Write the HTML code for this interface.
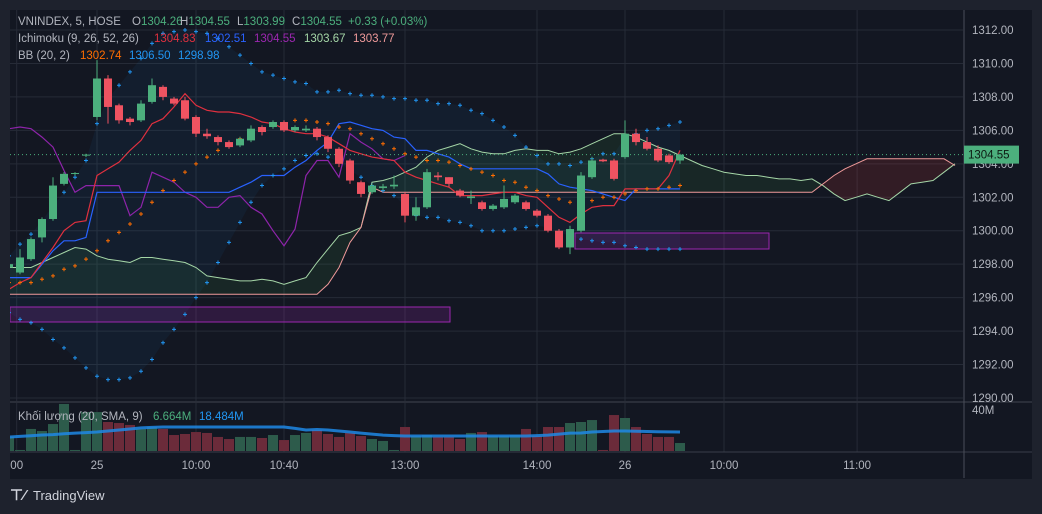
<!DOCTYPE html>
<html><head><meta charset="utf-8"><style>
html,body{margin:0;padding:0;background:#1e222d;}
svg{display:block;font-family:"Liberation Sans",sans-serif;}
</style></head><body>
<svg id="c" width="1042" height="514" viewBox="0 0 1042 514">
<rect x="0" y="0" width="1042" height="514" fill="#1e222d"/>
<rect x="10" y="10" width="1022" height="469" fill="#131722"/>
<defs><clipPath id="mainClip"><rect x="10" y="10" width="953" height="391"/></clipPath>
<clipPath id="volClip"><rect x="10" y="403" width="953" height="49"/></clipPath></defs>
<g id="grid"></g>
<g id="main" clip-path="url(#mainClip)"></g>
<g id="vol" clip-path="url(#volClip)"></g>
<g id="axes"></g>
<g font-size="11.5">
<text x="18" y="25" fill="#b2b5be">VNINDEX, 5, HOSE</text>
<text x="132" y="25" fill="#b2b5be">O<tspan fill="#4caf7d">1304.26</tspan></text>
<text x="180" y="25" fill="#b2b5be">H<tspan fill="#4caf7d">1304.55</tspan></text>
<text x="237" y="25" fill="#b2b5be">L<tspan fill="#4caf7d">1303.99</tspan></text>
<text x="292" y="25" fill="#b2b5be">C<tspan fill="#4caf7d">1304.55</tspan></text>
<text x="348" y="25" fill="#4caf7d">+0.33 (+0.03%)</text>
</g>
<g font-size="11.5">
<text x="18" y="42" fill="#b2b5be">Ichimoku (9, 26, 52, 26)</text>
<text x="154" y="42" fill="#e0303f">1304.83</text>
<text x="205" y="42" fill="#2962ff">1302.51</text>
<text x="254" y="42" fill="#9c27b0">1304.55</text>
<text x="304" y="42" fill="#a5d6a7">1303.67</text>
<text x="353" y="42" fill="#ef9a9a">1303.77</text>
</g>
<g font-size="11.5">
<text x="18" y="59" fill="#b2b5be">BB (20, 2)</text>
<text x="80" y="59" fill="#ff6d00">1302.74</text>
<text x="129" y="59" fill="#2196f3">1306.50</text>
<text x="178" y="59" fill="#2196f3">1298.98</text>
</g>
<g font-size="11.5">
<text x="18" y="420" fill="#b2b5be">Khối lượng (20, SMA, 9)</text>
<text x="153" y="420" fill="#4caf7d">6.664M</text>
<text x="199" y="420" fill="#2196f3">18.484M</text>
</g>
<g>
<text x="10" y="500" fill="#d1d4dc" font-size="15" font-weight="bold">⊤⁄</text>
<text x="33" y="500" fill="#d1d4dc" font-size="13">TradingView</text>
</g>
</svg>
<script>
// ===== data =====
const opens = [1297.8,1297.5,1298.3,1299.6,1300.7,1302.8,1303.4,1304.5,1306.8,1309.1,1307.5,1306.7,1306.6,1307.7,1308.6,1307.9,1307.8,1306.8,1305.8,1305.6,1305.3,1305.1,1305.4,1306.2,1306.2,1306.5,1306.0,1306.0,1306.1,1305.6,1304.9,1304.2,1302.9,1302.3,1302.55,1302.65,1302.2,1300.9,1301.4,1303.3,1303.2,1302.4,1301.95,1301.7,1301.3,1301.4,1301.7,1301.7,1301.2,1300.9,1300.0,1299.0,1300.0,1303.2,1304.25,1304.2,1304.4,1305.8,1305.3,1304.9,1304.5,1304.2];
const closes = [1298.0,1298.4,1299.5,1300.7,1302.7,1303.4,1303.45,1304.55,1309.1,1307.4,1306.6,1306.5,1307.6,1308.7,1308.0,1307.6,1306.7,1305.8,1305.65,1305.3,1305.0,1305.5,1306.1,1305.9,1306.5,1306.0,1306.2,1306.1,1305.6,1304.9,1304.0,1303.0,1302.2,1302.7,1302.65,1302.75,1300.9,1301.4,1303.5,1303.2,1302.8,1302.1,1302.05,1301.3,1301.5,1301.9,1302.1,1301.3,1300.9,1300.0,1299.0,1300.1,1303.3,1304.2,1304.15,1303.1,1305.8,1305.3,1304.9,1304.2,1304.1,1304.55];
const highs = [1298.2,1298.9,1299.6,1300.8,1303.2,1303.5,1303.5,1304.6,1310.2,1309.3,1307.6,1306.8,1307.8,1309.1,1308.7,1308.0,1308.0,1306.9,1306.1,1305.7,1305.4,1305.6,1306.3,1306.3,1306.6,1306.6,1306.3,1306.3,1306.2,1305.7,1305.0,1304.3,1303.0,1302.8,1302.8,1303.3,1302.3,1302.0,1303.7,1303.5,1303.2,1302.5,1302.4,1301.8,1301.6,1302.7,1302.2,1301.8,1301.3,1301.0,1300.1,1300.3,1303.5,1304.4,1304.3,1304.3,1306.6,1306.1,1305.6,1305.1,1304.6,1304.6];
const lows = [1297.6,1297.4,1298.2,1299.3,1300.6,1302.7,1303.3,1304.4,1306.6,1306.4,1306.4,1306.3,1306.5,1307.6,1307.8,1307.5,1306.6,1305.6,1305.5,1305.1,1304.9,1305.0,1305.3,1305.7,1306.1,1305.9,1305.9,1305.9,1305.4,1304.7,1303.8,1302.8,1302.0,1302.2,1302.4,1302.5,1300.5,1300.6,1301.3,1303.0,1302.6,1302.0,1301.6,1301.2,1301.2,1301.3,1301.6,1301.2,1300.8,1299.9,1298.9,1298.6,1299.9,1303.1,1304.1,1303.0,1304.3,1305.1,1304.8,1304.1,1304.0,1304.0];
const volumes = [13.7,1,21.5,19.5,26.3,45.9,1,38,38,28.3,27.3,25.4,21.5,23.4,21.5,15.6,16.6,18.5,17.6,13.7,11.7,13.7,13.7,12.7,15.6,10.7,15.6,17.6,20.5,16.6,13.7,17.6,14.6,11.7,9.8,1,23.4,14.6,15.6,13.7,13.7,11.7,17.6,18.5,14.6,14.6,15.6,21.5,14.6,23.4,23.4,27.3,28.3,30.2,1,35.1,32.2,23.4,16.6,13.7,13.7,7.8];
const volumeSma = [13.7,14.2,14.8,15.6,16,16.8,17.5,18,18.5,19.5,20.5,21.5,22.5,23,23.4,23.4,23.4,23.4,23.4,23.4,23.4,23.4,23.4,23.4,23.4,23.4,22,20.5,21,20.5,19.5,18.5,17.5,16.5,15.5,15,14.6,14.6,14.6,14.6,14.6,14.6,14.6,14.6,14.6,14.6,14.6,14.6,15,15.5,16.5,17.5,17.6,18.5,19,19.5,19.5,19.3,19,18.8,18.6,18.5];
const tenkan = [1296.5,1296.9,1297.2,1298.1,1299.0,1300.0,1300.5,1300.6,1303.3,1303.7,1304.1,1304.8,1305.4,1306.4,1306.7,1307.4,1308.2,1307.5,1307.2,1307.1,1307.1,1307.0,1306.8,1306.5,1306.4,1306.1,1305.9,1305.8,1305.8,1305.6,1305.2,1304.8,1304.6,1304.4,1304.3,1304.2,1303.5,1303.2,1303.0,1302.8,1302.6,1302.1,1302.1,1302.1,1302.2,1302.3,1302.3,1302.1,1302.0,1301.4,1300.8,1300.5,1301.0,1301.4,1301.5,1301.5,1302.5,1302.5,1302.5,1302.5,1303.3,1304.8];
const kijun = [1297.2,1297.2,1297.2,1298.0,1298.8,1299.4,1299.4,1299.6,1302.3,1302.3,1302.3,1302.3,1302.3,1302.3,1302.3,1302.3,1302.3,1302.3,1302.3,1302.3,1302.3,1302.6,1302.9,1303.3,1303.3,1303.3,1303.8,1304.2,1304.8,1305.3,1306.4,1306.5,1306.3,1306.1,1306.0,1305.6,1305.5,1304.8,1304.8,1304.6,1304.4,1304.0,1303.7,1303.7,1303.7,1303.7,1303.7,1303.7,1303.7,1303.4,1302.8,1302.6,1302.5,1302.4,1302.2,1302.0,1301.8,1302.5,1302.5,1302.5,1302.5,1302.5];
const chikou = [1306.1,1306.2,1306.1,1305.6,1305.0,1303.6,1302.3,1302.7,1302.7,1302.7,1302.7,1300.9,1301.4,1303.5,1303.2,1302.9,1302.3,1302.0,1301.4,1301.4,1302.0,1302.1,1301.4,1301.0,1300.0,1299.1,1300.1,1303.3,1304.2,1304.2,1303.2,1305.8,1305.3,1304.9,1304.3,1304.2,1304.5];
const spanA = [1297.8,1297.8,1297.8,1298.1,1298.4,1298.7,1299.0,1298.9,1298.5,1298.3,1298.2,1298.1,1298.4,1298.4,1298.3,1298.2,1298.1,1297.8,1297.3,1297.2,1297.1,1297.0,1297.0,1297.1,1297.0,1296.8,1297.0,1297.2,1298.1,1298.9,1299.7,1299.9,1300.2,1302.9,1303.0,1303.2,1303.5,1303.8,1304.4,1304.8,1305.0,1305.2,1304.9,1304.7,1304.6,1304.6,1304.8,1304.9,1304.8,1304.8,1304.6,1304.7,1304.9,1305.2,1305.5,1305.8,1305.8,1305.6,1305.3,1305.0,1304.8,1304.5,1304.2,1303.9,1303.7,1303.5,1303.4,1303.3,1303.3,1303.2,1303.1,1303.1,1303.0,1303.1,1302.7,1302.2,1301.8,1302.0,1302.2,1302.0,1301.8,1302.3,1302.8,1302.9,1303.0,1303.5,1304.0];
const spanB = [1296.2,1296.2,1296.2,1296.2,1296.2,1296.2,1296.2,1296.2,1296.2,1296.2,1296.2,1296.2,1296.2,1296.2,1296.2,1296.2,1296.2,1296.2,1296.2,1296.2,1296.2,1296.2,1296.2,1296.2,1296.2,1296.2,1296.2,1296.2,1296.2,1296.8,1297.8,1299.3,1300.2,1302.6,1302.3,1302.3,1302.3,1302.3,1302.3,1302.3,1302.3,1302.3,1302.3,1302.3,1302.3,1302.3,1302.3,1302.3,1302.3,1302.3,1302.3,1302.3,1302.3,1302.3,1302.3,1302.3,1302.3,1302.3,1302.3,1302.3,1302.3,1302.3,1302.3,1302.3,1302.3,1302.3,1302.3,1302.3,1302.3,1302.3,1302.3,1302.3,1302.3,1302.3,1302.8,1303.3,1303.7,1304.0,1304.3,1304.3,1304.3,1304.3,1304.3,1304.3,1304.3,1304.3,1303.9];
const bbUpper = [1298.5,1299.2,1299.8,1300.6,1301.5,1302.3,1303.2,1304.2,1306.4,1307.9,1308.7,1309.5,1310.3,1311.2,1311.8,1311.9,1312.0,1311.9,1311.8,1311.5,1311.0,1310.5,1310.0,1309.5,1309.3,1309.1,1308.9,1308.8,1308.3,1308.3,1308.4,1308.2,1308.1,1308.1,1308.0,1307.9,1307.9,1307.8,1307.8,1307.6,1307.6,1307.5,1307.2,1307.0,1306.6,1306.2,1305.7,1305.0,1304.5,1304.0,1304.0,1303.9,1304.1,1304.3,1304.6,1304.6,1305.6,1305.8,1306.0,1306.1,1306.3,1306.5];
const bbLower = [1295.1,1294.7,1294.5,1294.1,1293.5,1293.0,1292.4,1291.8,1291.3,1291.1,1291.1,1291.2,1291.6,1292.3,1293.3,1294.1,1295.0,1296.0,1296.9,1298.1,1299.3,1300.5,1301.7,1302.7,1303.3,1303.7,1304.2,1304.5,1304.6,1304.4,1304.1,1303.6,1303.2,1302.7,1302.4,1302.1,1301.5,1300.9,1300.8,1300.8,1300.6,1300.5,1300.3,1300.0,1300.0,1300.0,1300.1,1300.2,1300.3,1300.2,1299.9,1299.7,1299.5,1299.4,1299.3,1299.3,1299.1,1299.0,1298.9,1298.9,1298.9,1298.9];
const bbBasis = [1296.9,1296.9,1296.9,1297.1,1297.3,1297.7,1297.9,1298.3,1298.8,1299.4,1299.9,1300.4,1301.0,1301.7,1302.4,1303.0,1303.5,1304.0,1304.4,1304.8,1305.1,1305.5,1305.9,1306.1,1306.3,1306.4,1306.6,1306.6,1306.5,1306.4,1306.2,1306.1,1305.8,1305.5,1305.2,1304.9,1304.6,1304.4,1304.2,1304.2,1304.1,1303.9,1303.7,1303.5,1303.3,1303.0,1302.9,1302.6,1302.4,1302.1,1301.9,1301.7,1301.8,1301.8,1302.0,1302.0,1302.2,1302.4,1302.5,1302.5,1302.6,1302.7];
const priceTicks = [1312,1310,1308,1306,1304,1302,1300,1298,1296,1294,1292,1290];
const timeLabels = ["00","25","10:00","10:40","13:00","14:00","26","10:00","11:00"];
const timeLabelIdx = [0.7,8,17,25,36,48,56,65,77.1];
const lastPrice = 1304.55;

// ===== axes =====
const X = i => 9 + 11*i;
const Y = v => 30 + (1312 - v)*16.727;
const VY = m => 451 - m*1.025;
const NS = "http://www.w3.org/2000/svg";
function mk(tag, attrs, parent){const e=document.createElementNS(NS,tag);for(const k in attrs)e.setAttribute(k,attrs[k]);parent.appendChild(e);return e;}
const grid=document.getElementById('grid'), main=document.getElementById('main'), vol=document.getElementById('vol'), axes=document.getElementById('axes');
const GREEN="#4caf7d", RED="#ef5361";

priceTicks.forEach(p=>{
  const l=mk('line',{x1:10,x2:963,y1:Y(p),y2:Y(p),stroke:"#262b37","stroke-width":1},grid);
  
  
});
timeLabelIdx.forEach(t=>{
  const l=mk('line',{x1:X(t),x2:X(t),y1:10,y2:452,stroke:"#262b37","stroke-width":1},grid);
  
  
});

function pts(arr, off){return arr.map((v,i)=>X(i+off)+","+Y(v).toFixed(1)).join(" ");}

{
  const up=bbUpper.map((v,i)=>X(i)+","+Y(v).toFixed(1));
  const lo=bbLower.map((v,i)=>X(i)+","+Y(v).toFixed(1)).reverse();
  const p=mk('polygon',{points:up.concat(lo).join(" "),fill:"rgba(33,150,243,0.06)"},main);
  
  
}
for(let k=0;k<spanA.length-1;k++){
  const a0=spanA[k],a1=spanA[k+1],b0=spanB[k],b1=spanB[k+1];
  const col=(a0+a1)>=(b0+b1)?"rgba(67,160,71,0.12)":"rgba(244,67,54,0.14)";
  const p=mk('polygon',{points:`${X(k)},${Y(a0)} ${X(k+1)},${Y(a1)} ${X(k+1)},${Y(b1)} ${X(k)},${Y(b0)}`,fill:col},main);
  
  
}
{
  const r1=mk('rect',{x:10,y:307,width:440,height:15,fill:"rgba(156,39,176,0.2)",stroke:"#9c27b0","stroke-width":1},main);
  
  
  const r2=mk('rect',{x:575,y:233,width:194,height:16,fill:"rgba(156,39,176,0.2)",stroke:"#9c27b0","stroke-width":1},main);
  
  
}
function line(arr,off,color,name,w){
  const l=mk('polyline',{points:pts(arr,off),fill:"none",stroke:color,"stroke-width":w||1.2},main);
  
  
}
line(spanA,0,"#a5d6a7","ichimoku-span-a",1);
line(spanB,0,"#ef9a9a","ichimoku-span-b",1);
line(chikou,0,"#8e24aa","ichimoku-lagging-span");
line(kijun,0,"#2962ff","ichimoku-base-line");
line(tenkan,0,"#e0303f","ichimoku-conversion-line");

{
  const l=mk('line',{x1:10,x2:963,y1:Y(lastPrice),y2:Y(lastPrice),stroke:"#4caf7d","stroke-width":1,"stroke-dasharray":"1,3"},main);
  
  
}

function crosses(arr,color,name){
  arr.forEach((v,i)=>{
    const x=X(i),y=Y(v);
    const g=mk('path',{d:`M${x-2},${y}h4M${x},${y-2}v4`,stroke:color,"stroke-width":1},main);
    
    
  });
}
crosses(bbUpper,"#2196f3","bb-upper-point");
crosses(bbLower,"#2196f3","bb-lower-point");
crosses(bbBasis,"#ff6d00","bb-basis-point");

opens.forEach((o,i)=>{
  const c=closes[i], up=c>=o, col=up?GREEN:RED, x=X(i);
  const w=mk('line',{x1:x,x2:x,y1:Y(highs[i]),y2:Y(lows[i]),stroke:col,"stroke-width":1},main);
  
  
  const top=Y(Math.max(o,c)), h=Math.max(1,Math.abs(Y(o)-Y(c)));
  const b=mk('rect',{x:x-4,y:top,width:8,height:h,fill:col},main);
  
  
});

volumes.forEach((m,i)=>{
  const up=closes[i]>=opens[i];
  const r=mk('rect',{x:X(i)-5,y:VY(m),width:10,height:451-VY(m),fill:up?"#2d5b4b":"#6b2b3a"},vol);
  
  
});
{
  const l=mk('polyline',{points:volumeSma.map((m,i)=>X(i)+","+VY(m).toFixed(1)).join(" "),fill:"none",stroke:"#1e88e5","stroke-width":3,"stroke-opacity":0.85},vol);
  
  
}

{
  const s=mk('rect',{x:10,y:401,width:1022,height:2,fill:"#2a2e39"},axes);
  
  
  const ta=mk('line',{x1:10,x2:1032,y1:452,y2:452,stroke:"#3a3e49"},axes);
  
  
  const pa=mk('line',{x1:964,x2:964,y1:10,y2:478,stroke:"#4a4e59"},axes);
  
  
}
priceTicks.forEach(p=>{
  const t=mk('text',{x:972,y:Y(p)+4,fill:"#b2b5be","font-size":11.5},axes);
  t.textContent=p.toFixed(2);
  
  
});
{
  const t=mk('text',{x:972,y:414,fill:"#b2b5be","font-size":11.5},axes);
  t.textContent="40M";
  
  
  const r=mk('rect',{x:964,y:Y(lastPrice)-9,width:55,height:18,fill:"#4caf7d"},axes);
  
  
  const lt=mk('text',{x:968,y:Y(lastPrice)+4,fill:"#0d1a12","font-size":11.5},axes);
  lt.textContent=lastPrice.toFixed(2);
  
  
}
timeLabels.forEach((s,i)=>{
  const t=mk('text',{x:X(timeLabelIdx[i]),y:469,fill:"#b2b5be","font-size":11.5,"text-anchor":"middle"},axes);
  t.textContent=s;
  
  
});
</script>
</body></html>
